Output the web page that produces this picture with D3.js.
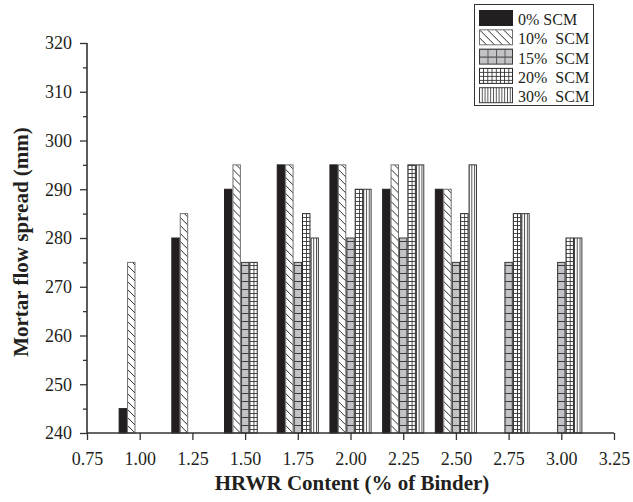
<!DOCTYPE html>
<html>
<head>
<meta charset="utf-8">
<script src="https://cdn.jsdelivr.net/npm/d3@7"></script>
<style>
  body { margin: 0; background: #fff; }
  text { font-family: "Liberation Serif", "DejaVu Serif", serif; fill: #231f20; }
</style>
</head>
<body>
<svg class="chart"></svg>
<script>
var hrwr = [1.00, 1.25, 1.50, 1.75, 2.00, 2.25, 2.50, 2.75, 3.00];
var seriesNames = ["0% SCM", "10%  SCM", "15%  SCM", "20%  SCM", "30%  SCM"];
var scm0  = [245, 280, 290, 295, 295, 290, 290, null, null];
var scm10 = [275, 285, 295, 295, 295, 295, 290, null, null];
var scm15 = [null, null, 275, 275, 280, 280, 275, 275, 275];
var scm20 = [null, null, 275, 285, 290, 295, 285, 285, 280];
var scm30 = [null, null, null, 280, 290, 295, 295, 285, 280];
var xTicks = [0.75, 1.00, 1.25, 1.50, 1.75, 2.00, 2.25, 2.50, 2.75, 3.00, 3.25];
var yTicks = [240, 250, 260, 270, 280, 290, 300, 310, 320];

var W = 633, H = 502;
var svg = d3.select(".chart").attr("width", W).attr("height", H);

var x = d3.scaleLinear().domain([0.75, 3.25]).range([87, 614]);
var y = d3.scaleLinear().domain([240, 320]).range([433, 43]);

var all = [scm0, scm10, scm15, scm20, scm30];
var groupW = 0.2;
var bw = x(0.75 + groupW / 5) - x(0.75);

// patterns
var defs = svg.append("defs");
var ink = "#2b2b2b";

var p10 = defs.append("pattern").attr("id", "p10").attr("patternUnits", "userSpaceOnUse")
  .attr("width", 8).attr("height", 8);
p10.append("rect").attr("width", 8).attr("height", 8).attr("fill", "#fff");
[[0, 0, 8, 8], [-1, 7, 1, 9], [7, -1, 9, 1]].forEach(function(l) {
  p10.append("line").attr("x1", l[0]).attr("y1", l[1]).attr("x2", l[2]).attr("y2", l[3])
    .attr("stroke", ink).attr("stroke-width", 1);
});

function gray15(id, cw) {
  var p = defs.append("pattern").attr("id", id).attr("patternUnits", "userSpaceOnUse")
    .attr("width", cw).attr("height", 8);
  p.append("rect").attr("width", cw).attr("height", 8).attr("fill", "#c3c3c7");
  p.append("line").attr("x1", 0).attr("y1", 0.5).attr("x2", cw).attr("y2", 0.5)
    .attr("stroke", "#3a3a3a").attr("stroke-width", 1);
  p.append("line").attr("x1", 0.5).attr("y1", 0).attr("x2", 0.5).attr("y2", 8)
    .attr("stroke", "#5a5a5a").attr("stroke-width", 1);
}
gray15("p15", bw);
gray15("p15leg", 8.5);

var p20 = defs.append("pattern").attr("id", "p20").attr("patternUnits", "userSpaceOnUse")
  .attr("width", 4.2).attr("height", 4);
p20.append("rect").attr("width", 4.2).attr("height", 4).attr("fill", "#fff");
p20.append("line").attr("x1", 0).attr("y1", 0.4).attr("x2", 4.2).attr("y2", 0.4)
  .attr("stroke", ink).attr("stroke-width", 0.9);
p20.append("line").attr("x1", 0.4).attr("y1", 0).attr("x2", 0.4).attr("y2", 4)
  .attr("stroke", ink).attr("stroke-width", 0.9);

var p30 = defs.append("pattern").attr("id", "p30").attr("patternUnits", "userSpaceOnUse")
  .attr("width", 2.8).attr("height", 4);
p30.append("rect").attr("width", 2.8).attr("height", 4).attr("fill", "#fff");
p30.append("line").attr("x1", 0.5).attr("y1", 0).attr("x2", 0.5).attr("y2", 4)
  .attr("stroke", "#3a3a3a").attr("stroke-width", 0.9);

var fills = ["#231f20", "url(#p10)", "url(#p15)", "url(#p20)", "url(#p30)"];
var legFills = ["#231f20", "url(#p10)", "url(#p15leg)", "url(#p20)", "url(#p30)"];
var strokes = ["#231f20", "#707070", "#3a3a3a", "#2b2b2b", "#3a3a3a"];

// bars
var bars = svg.append("g").attr("class", "bars");
all.forEach(function(vals, s) {
  vals.forEach(function(v, i) {
    if (v == null) return;
    var left = x(hrwr[i] - groupW / 2 + s * groupW / 5);
    var g = bars.append("g").attr("transform", "translate(" + left + "," + y(240) + ")");
    g.append("rect")
      .attr("x", 0.5).attr("y", y(v) - y(240))
      .attr("width", bw - 1).attr("height", y(240) - y(v))
      .attr("fill", fills[s])
      .attr("stroke", strokes[s]).attr("stroke-width", 1);
  });
});

// axes
var xAxis = svg.append("g").attr("transform", "translate(0," + y(240) + ")")
  .call(d3.axisBottom(x).tickValues(xTicks).tickFormat(d3.format(".2f")).tickSize(7).tickPadding(12));
var yAxis = svg.append("g").attr("transform", "translate(" + x(0.75) + ",0)")
  .call(d3.axisLeft(y).tickValues(yTicks).tickFormat(d3.format("d")).tickSize(7).tickPadding(8));
svg.append("g").attr("transform", "translate(" + x(0.75) + ",0)")
  .call(d3.axisLeft(y).tickValues(d3.range(245, 320, 10)).tickFormat("").tickSize(4))
  .select(".domain").remove();

[xAxis, yAxis].forEach(function(a) {
  a.select(".domain").attr("stroke", "#333").attr("stroke-width", 1.6);
  a.selectAll(".tick text").attr("font-size", 18).attr("fill", "#231f20")
    .style("font-family", "'Liberation Serif', serif");
});
xAxis.select(".domain").attr("d", "M" + x(0.75) + ",0H" + x(3.25));
yAxis.select(".domain").attr("d", "M0," + y(320) + "V" + y(240));
svg.selectAll(".tick line").attr("stroke", "#333").attr("stroke-width", 1.3);

// titles
svg.append("text")
  .attr("x", 352).attr("y", 490)
  .attr("text-anchor", "middle")
  .attr("font-size", 21).attr("font-weight", "bold")
  .text("HRWR Content (% of Binder)");
svg.append("text")
  .attr("transform", "translate(28," + 242 + ") rotate(-90)")
  .attr("text-anchor", "middle")
  .attr("font-size", 21).attr("font-weight", "bold")
  .text("Mortar flow spread (mm)");

// legend
var legend = svg.append("g").attr("class", "legend");
legend.append("rect").attr("x", 474.5).attr("y", 4.5).attr("width", 119).attr("height", 101)
  .attr("fill", "#fff").attr("stroke", "#333").attr("stroke-width", 1);
seriesNames.forEach(function(name, s) {
  var ry = 10 + s * 19.3;
  var g = legend.append("g").attr("transform", "translate(479," + ry + ")");
  g.append("rect").attr("x", 0.5).attr("y", 0.5).attr("width", 33).attr("height", 15)
    .attr("fill", legFills[s]).attr("stroke", strokes[s]).attr("stroke-width", 1);
  legend.append("text").attr("x", 518).attr("y", ry + 15)
    .attr("font-size", 16).style("white-space", "pre").text(name);
});
</script>
</body>
</html>
